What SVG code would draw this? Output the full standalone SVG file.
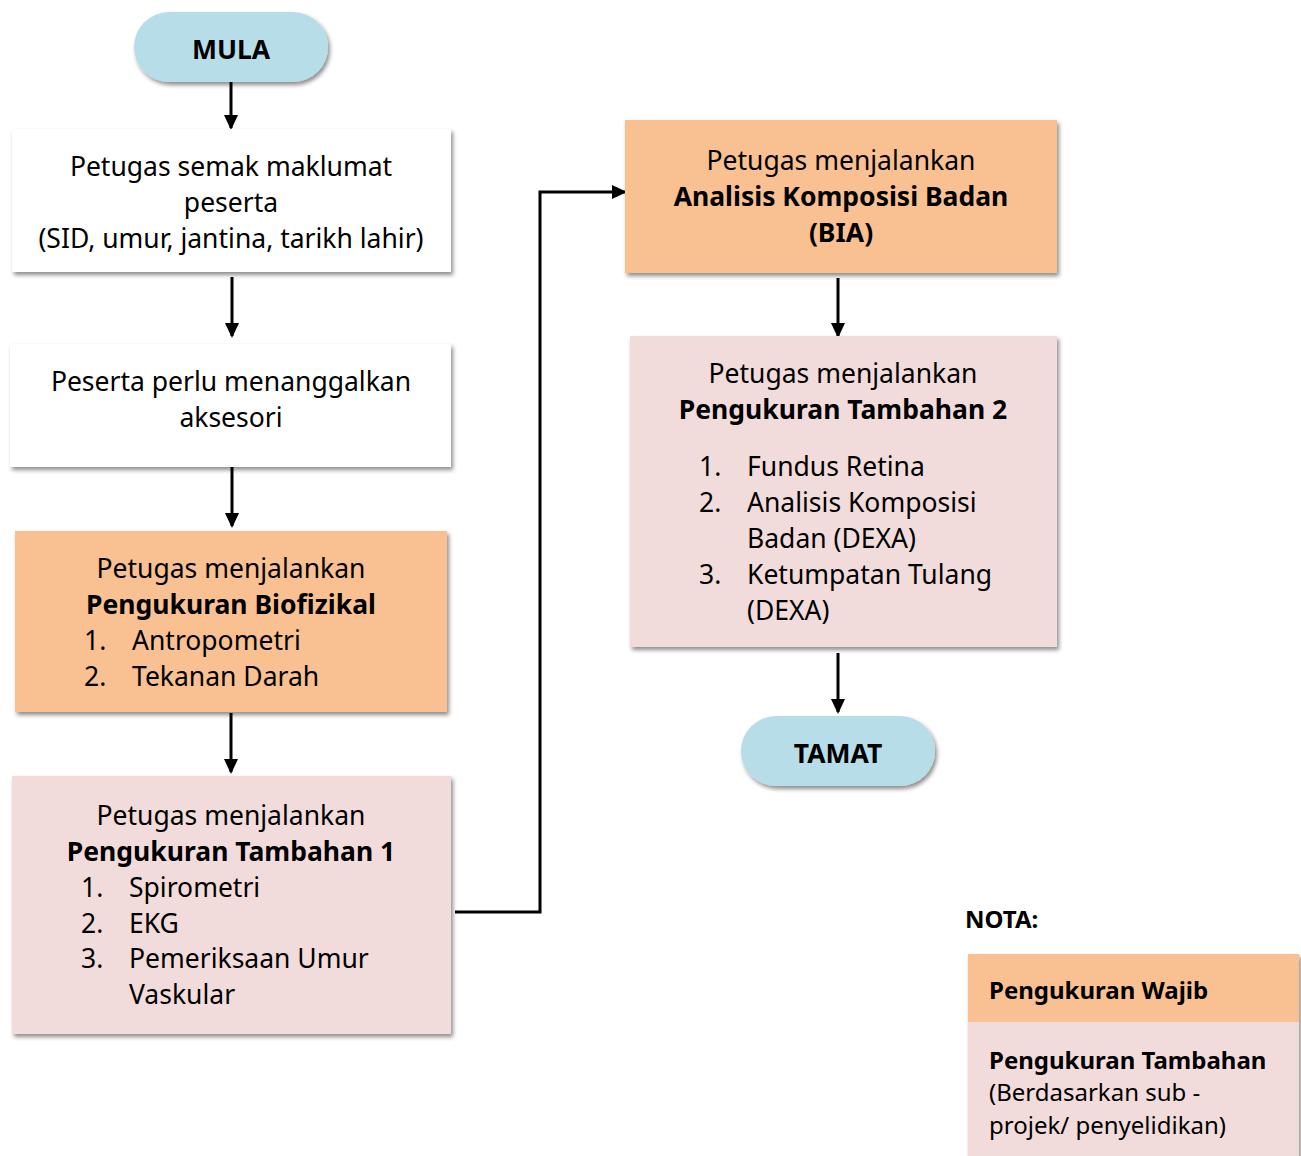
<svg xmlns="http://www.w3.org/2000/svg" width="1301" height="1156" viewBox="0 0 1301 1156">
<defs>
<filter id="sh" x="-10%" y="-10%" width="120%" height="130%">
<feDropShadow dx="2" dy="3" stdDeviation="2" flood-color="#000" flood-opacity="0.45"/>
</filter>
<marker id="ah" markerWidth="15" markerHeight="14" refX="13" refY="7" orient="auto" markerUnits="userSpaceOnUse" viewBox="0 0 15 14">
<path d="M0,0 L15,7 L0,14 z" fill="#000"/>
</marker>
</defs>
<style>
text{font-family:"Noto Sans","Open Sans","Liberation Sans",sans-serif;font-size:26.5px;fill:#000}
.c{text-anchor:middle}
.b{font-weight:bold}
.term{fill:#b7dde8;filter:url(#sh)}
.white{fill:#fff;filter:url(#sh)}
.orange{fill:#f9c091;filter:url(#sh)}
.pink{fill:#f2dcdb;filter:url(#sh)}
.conn{stroke:#000;stroke-width:3;fill:none;marker-end:url(#ah)}
.lg{font-size:24px}
</style>
<rect width="1301" height="1156" fill="#fff"/>
<g id="connectors">
<line class="conn" x1="231" y1="82" x2="231" y2="128"/>
<line class="conn" x1="232" y1="277" x2="232" y2="336"/>
<line class="conn" x1="232" y1="467" x2="232" y2="526"/>
<line class="conn" x1="231" y1="713" x2="231" y2="772"/>
<polyline class="conn" points="455,912 540,912 540,192 625,192"/>
<line class="conn" x1="838" y1="278" x2="838" y2="336"/>
<line class="conn" x1="838" y1="653" x2="838" y2="712"/>
</g>
<g id="mula">
<rect class="term" x="134" y="12" width="194" height="70" rx="35"/>
<text class="c b" x="231" y="59">MULA</text>
</g>
<g id="semak">
<rect class="white" x="12" y="129" width="439" height="143"/>
<text class="c" x="231" y="176">Petugas semak maklumat</text>
<text class="c" x="231" y="212">peserta</text>
<text class="c" x="231" y="248">(SID, umur, jantina, tarikh lahir)</text>
</g>
<g id="aksesori">
<rect class="white" x="10" y="344" width="441" height="123"/>
<text class="c" x="231" y="391">Peserta perlu menanggalkan</text>
<text class="c" x="231" y="427">aksesori</text>
</g>
<g id="biofizikal">
<rect class="orange" x="15" y="531" width="432" height="181"/>
<text class="c" x="231" y="578">Petugas menjalankan</text>
<text class="c b" x="231" y="614">Pengukuran Biofizikal</text>
<text x="84" y="650">1.</text><text x="132" y="650">Antropometri</text>
<text x="84" y="686">2.</text><text x="132" y="686">Tekanan Darah</text>
</g>
<g id="tambahan1">
<rect class="pink" x="12" y="776" width="439" height="258"/>
<text class="c" x="231" y="825">Petugas menjalankan</text>
<text class="c b" x="231" y="861">Pengukuran Tambahan 1</text>
<text x="81" y="897">1.</text><text x="129" y="897">Spirometri</text>
<text x="81" y="933">2.</text><text x="129" y="933">EKG</text>
<text x="81" y="968">3.</text><text x="129" y="968">Pemeriksaan Umur</text>
<text x="129" y="1004">Vaskular</text>
</g>
<g id="bia">
<rect class="orange" x="625" y="120" width="432" height="153"/>
<text class="c" x="841" y="170">Petugas menjalankan</text>
<text class="c b" x="841" y="206">Analisis Komposisi Badan</text>
<text class="c b" x="841" y="242">(BIA)</text>
</g>
<g id="tambahan2">
<rect class="pink" x="630" y="336" width="427" height="311"/>
<text class="c" x="843" y="383">Petugas menjalankan</text>
<text class="c b" x="843" y="419">Pengukuran Tambahan 2</text>
<text x="699" y="476">1.</text><text x="747" y="476">Fundus Retina</text>
<text x="699" y="512">2.</text><text x="747" y="512">Analisis Komposisi</text>
<text x="747" y="548">Badan (DEXA)</text>
<text x="699" y="584">3.</text><text x="747" y="584">Ketumpatan Tulang</text>
<text x="747" y="620">(DEXA)</text>
</g>
<g id="tamat">
<rect class="term" x="741" y="716" width="194" height="70" rx="35"/>
<text class="c b" x="838" y="763">TAMAT</text>
</g>
<g id="nota">
<text class="b lg" x="965" y="928">NOTA:</text>
<rect class="pink" x="968" y="954" width="331" height="210"/>
<rect x="968" y="954" width="331" height="68" fill="#f9c091"/>
<text class="b lg" x="989" y="999">Pengukuran Wajib</text>
<text class="b lg" x="989" y="1069">Pengukuran Tambahan</text>
<text class="lg" x="989" y="1101">(Berdasarkan sub -</text>
<text class="lg" x="989" y="1134">projek/ penyelidikan)</text>
</g>
</svg>
